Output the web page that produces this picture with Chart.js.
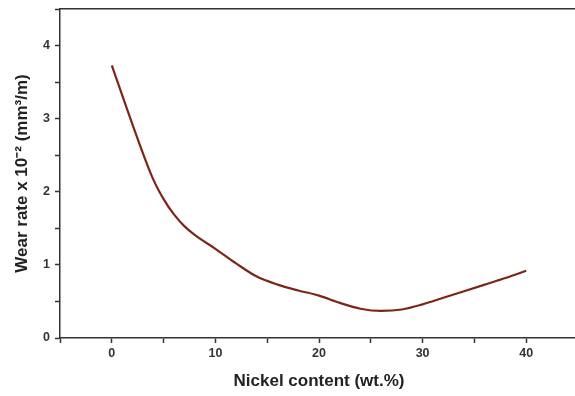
<!DOCTYPE html>
<html>
<head>
<meta charset="utf-8">
<script src="https://cdn.jsdelivr.net/npm/chart.js@4"></script>
<style>
html,body{margin:0;padding:0;background:#fff;overflow:hidden;}
#wrap{width:600px;height:396px;}
</style>
</head>
<body>
<div id="wrap"><canvas id="c" width="600" height="396"></canvas></div>
<script>
const nickelContent = [0, 2, 4, 5, 6, 7, 8, 10, 12, 14, 16, 18, 20, 22, 24, 26, 28, 30, 32, 34, 36, 38, 40];
const wearRate = [3.73, 2.92, 2.17, 1.90, 1.69, 1.53, 1.41, 1.22, 1.02, 0.84, 0.73, 0.65, 0.58, 0.48, 0.40, 0.37, 0.39, 0.46, 0.55, 0.64, 0.73, 0.82, 0.92];
const xTickLabels = [0, 10, 20, 30, 40];
const yTickLabels = [0, 1, 2, 3, 4];

const pts = nickelContent.map((x, i) => ({x: x, y: wearRate[i]}));
const axisColor = '#333333';
const tickFont = {family: 'Liberation Sans, Arial, sans-serif', size: 12.5, weight: 'bold'};
const titleFont = {family: 'Liberation Sans, Arial, sans-serif', size: 17, weight: 'bold'};

new Chart(document.getElementById('c'), {
  type: 'scatter',
  data: {
    datasets: [{
      data: pts,
      showLine: true,
      borderColor: '#7d2618',
      borderWidth: 2.2,
      pointRadius: 0,
      cubicInterpolationMode: 'monotone',
      fill: false
    }]
  },
  options: {
    responsive: false,
    animation: false,
    layout: {padding: {left: 0, right: 22, top: 0, bottom: 0}},
    plugins: {legend: {display: false}, tooltip: {enabled: false}},
    scales: {
      x: {
        type: 'linear', position: 'bottom', min: -5, max: 45,
        afterFit: s => { s.height = 58; },
        border: {display: true, color: axisColor, width: 1.5},
        grid: {drawOnChartArea: false, drawTicks: true, tickLength: 5, color: axisColor, tickColor: axisColor, tickWidth: 1.5},
        ticks: {
          stepSize: 5, color: '#333', font: tickFont, padding: 3, autoSkip: false, maxRotation: 0,
          callback: v => xTickLabels.includes(v) ? String(v) : ''
        },
        title: {display: true, text: 'Nickel content (wt.%)', color: '#222', font: titleFont, padding: {top: 5}}
      },
      xTop: {
        type: 'linear', position: 'top', min: -5, max: 45,
        afterFit: s => { s.height = 9; },
        border: {display: true, color: axisColor, width: 1.5},
        grid: {display: false, drawTicks: false},
        ticks: {display: false}
      },
      y: {
        type: 'linear', position: 'left', min: 0, max: 4.5,
        afterFit: s => { s.width = 60; s.paddingTop = 0; },
        border: {display: true, color: axisColor, width: 1.5},
        grid: {drawOnChartArea: false, drawTicks: true, tickLength: 5, color: axisColor, tickColor: axisColor, tickWidth: 1.5},
        ticks: {
          stepSize: 0.5, color: '#333', font: tickFont, padding: 5, autoSkip: false,
          callback: v => yTickLabels.includes(v) ? String(v) : ''
        },
        title: {display: true, text: 'Wear rate x 10\u207B\u00B2 (mm\u00B3/m)', color: '#222', font: titleFont, padding: {top: 12, bottom: 2}}
      }
    }
  }
});
</script>
</body>
</html>
